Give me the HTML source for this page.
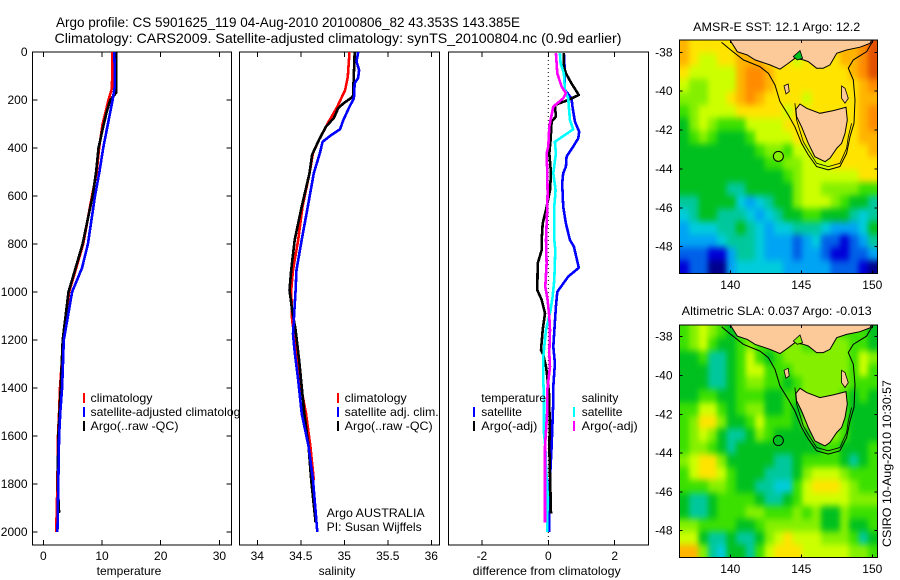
<!DOCTYPE html>
<html lang="en">
<head>
<meta charset="utf-8">
<title>Argo profile CS 5901625_119</title>
<style>
html,body{margin:0;padding:0;background:#fff;width:900px;height:580px;overflow:hidden}
svg{display:block}
text{font-family:"Liberation Sans",sans-serif;font-size:12px;fill:#000}
.title{font-size:14px}
</style>
</head>
<body>
<svg id="chart" xmlns="http://www.w3.org/2000/svg" width="900" height="580" viewBox="0 0 900 580">
  <defs>
    <filter id="map-smooth" filterUnits="userSpaceOnUse" x="640" y="0" width="260" height="580" color-interpolation-filters="sRGB">
      <feGaussianBlur stdDeviation="2.6 3.4"/>
    </filter>
  </defs>
  <rect x="0" y="0" width="900" height="580" fill="#fff"/>
  <text class="title" x="56" y="27" textLength="464" lengthAdjust="spacingAndGlyphs">Argo profile: CS 5901625_119 04-Aug-2010 20100806_82 43.353S 143.385E</text>
  <text class="title" x="54.5" y="43" textLength="567" lengthAdjust="spacingAndGlyphs">Climatology: CARS2009. Satellite-adjusted climatology: synTS_20100804.nc (0.9d earlier)</text>

  <g id="panel-t"></g>
  <g>
    <rect x="83" y="393" width="2" height="10" fill="#f00"/>
    <text x="90.5" y="402" textLength="62" lengthAdjust="spacingAndGlyphs">climatology</text>
    <rect x="83" y="407" width="2" height="10" fill="#00f"/>
    <text x="90.5" y="416" textLength="156" lengthAdjust="spacingAndGlyphs">satellite-adjusted climatology</text>
    <rect x="83" y="421" width="2" height="10" fill="#000"/>
    <text x="90.5" y="430" textLength="88" lengthAdjust="spacingAndGlyphs">Argo(..raw -QC)</text>
  </g>
  <text x="129" y="575" text-anchor="middle">temperature</text>

  <g id="panel-s"></g>
  <g>
    <rect x="337" y="393" width="2" height="10" fill="#f00"/>
    <text x="344.7" y="402" textLength="62" lengthAdjust="spacingAndGlyphs">climatology</text>
    <rect x="337" y="407" width="2" height="10" fill="#00f"/>
    <text x="344.7" y="416" textLength="94" lengthAdjust="spacingAndGlyphs">satellite adj. clim.</text>
    <rect x="337" y="421" width="2" height="10" fill="#000"/>
    <text x="344.7" y="430" textLength="88" lengthAdjust="spacingAndGlyphs">Argo(..raw -QC)</text>
  </g>
  <text x="326.7" y="517" textLength="98" lengthAdjust="spacingAndGlyphs">Argo AUSTRALIA</text>
  <text x="326.7" y="531" textLength="95" lengthAdjust="spacingAndGlyphs">PI: Susan Wijffels</text>
  <text x="337" y="575" text-anchor="middle">salinity</text>

  <g id="panel-d"></g>
  <g>
    <text x="481.3" y="402">temperature</text>
    <text x="581.7" y="402">salinity</text>
    <rect x="473" y="407" width="2" height="10" fill="#00f"/>
    <text x="481.3" y="416">satellite</text>
    <rect x="473" y="421" width="2" height="10" fill="#000"/>
    <text x="481.3" y="430" textLength="56" lengthAdjust="spacingAndGlyphs">Argo(-adj)</text>
    <rect x="573" y="407" width="2" height="10" fill="#0ff"/>
    <text x="581.7" y="416">satellite</text>
    <rect x="573" y="421" width="2" height="10" fill="#f0f"/>
    <text x="581.7" y="430" textLength="56" lengthAdjust="spacingAndGlyphs">Argo(-adj)</text>
  </g>
  <text x="546.7" y="575" text-anchor="middle" textLength="148" lengthAdjust="spacingAndGlyphs">difference from climatology</text>

  <g id="map-sst"></g>
  <text x="776.7" y="31" text-anchor="middle" textLength="167" lengthAdjust="spacingAndGlyphs">AMSR-E SST: 12.1 Argo: 12.2</text>
  <g id="map-sla"></g>
  <text x="776.7" y="315" text-anchor="middle" textLength="190" lengthAdjust="spacingAndGlyphs">Altimetric SLA: 0.037 Argo: -0.013</text>
  <text transform="translate(891 547) rotate(-90)" textLength="167" lengthAdjust="spacingAndGlyphs">CSIRO 10-Aug-2010 10:30:57</text>
</svg>
<script>
// ---------- profile data (depth, value) ----------
const depthTicks = [0,200,400,600,800,1000,1200,1400,1600,1800,2000];
const tempTicks = [0,10,20,30];
const salTicks = [34,34.5,35,35.5,36];
const diffTicks = [-2,0,2];

const tClimDepth = [0,150,200,300,400,500,600,800,900,1000,1200,1400,1500,1600,1800,2000];
const tClimValue = [11.75,11.7,11.1,10.1,9.5,9.1,8.3,6.8,5.6,4.4,3.4,2.85,2.7,2.5,2.4,2.2];
const tArgoDepth = [0,170,200,250,300,400,500,600,800,900,1000,1200,1400,1600,1800,1920];
const tArgoValue = [12.4,12.4,11.4,10.8,10.3,9.4,9.0,8.4,6.7,5.5,4.3,3.3,2.96,2.55,2.45,2.7];
const tSatDepth = [0,100,150,200,300,400,500,600,800,900,1000,1200,1400,1500,1600,1800,2000];
const tSatValue = [12.1,12.2,12.15,11.8,11,10.2,9.55,8.8,7.6,6.6,4.9,3.5,3.2,2.9,2.7,2.55,2.4];

const sClimDepth = [0,103,158,228,297,365,421,505,644,783,908,992,1117,1250,1394,1506,1644,1783];
const sClimValue = [35.06,35.04,35.01,34.92,34.81,34.71,34.64,34.6,34.52,34.47,34.41,34.39,34.4,34.45,34.5,34.56,34.61,34.65];
const sArgoDepth = [0,186,214,234,275,311,365,428,505,644,783,908,992,1075,1158,1283,1394,1506,1644,1783,1960];
const sArgoValue = [35.12,35.1,34.99,34.93,34.88,34.79,34.71,34.63,34.6,34.51,34.43,34.39,34.37,34.4,34.44,34.48,34.51,34.54,34.59,34.62,34.67];
const sSatDepth = [0,40,75,108,130,193,228,283,322,346,374,421,505,644,783,908,992,1117,1175,1250,1367,1506,1644,1783,2000];
const sSatValue = [35.16,35.14,35.17,35.16,35.12,35.11,35.06,34.99,34.95,34.85,34.75,34.72,34.65,34.58,34.51,34.45,34.44,34.42,34.41,34.43,34.47,34.51,34.59,34.64,34.69];

const dTempSatDepth = [5,89,158,193,228,290,332,360,394,436,478,505,547,644,714,783,811,899,936,999,1061,1144,1228,1297,1394,1450,1533,1644,1728,1839,2000];
const dTempSatValue = [.47,.5,.5,.7,.73,.8,.93,.9,.75,.55,.53,.45,.42,.45,.53,.65,.77,.92,.6,.27,.23,.19,.15,.2,.15,.15,.13,.1,.07,.03,.03];
const dTempArgoDepth = [5,61,89,131,179,200,221,269,290,367,422,505,575,658,714,783,825,881,992,1033,1089,1158,1242,1262,1311,1353,1436,1492,1533,1644,1922];
const dTempArgoValue = [.47,.47,.53,.7,.92,.6,.2,.23,.1,.07,.03,.08,.05,-.07,-.17,-.2,-.2,-.32,-.33,-.2,-.1,-.17,-.22,-.15,-.07,-.03,.03,.03,.05,.03,.08];
const dSalSatDepth = [5,47,89,158,193,283,322,346,374,422,505,575,644,783,825,950,1019,1075,1158,1269,1367,1450,1589,1644,1728,1839,1999];
const dSalSatValue = [.35,.37,.47,.5,.6,.65,.75,.5,.2,.23,.15,.22,.18,.18,.21,.18,.13,.07,-.07,-.15,-.15,-.13,-.13,-.09,-.07,-.02,-.03];
const dSalArgoDepth = [5,89,144,172,193,228,283,311,394,422,505,589,644,783,881,978,1033,1103,1158,1256,1311,1408,1492,1644,1839,1961];
const dSalArgoValue = [.23,.27,.4,.53,.45,.15,.07,.03,0,-.05,-.03,-.02,-.03,-.07,-.05,-.09,-.02,.03,.05,.03,.05,-.03,-.03,-.1,-.1,-.1];

// ---------- map data ----------
const lonTicks = [140,145,150];
const latTicks = [38,40,42,44,46,48];
const sstGrid = [
[11,10,10,10,10,10,11,11,11,11,11,11,11,11,11,11,11,11,11,12,13],
[11,10,9,9,10,10,11,11,11,10,10,10,9,10,10,10,10,11,11,12,13],
[10,9,9,9,9,9,11,12,12,11,10,10,10,10,10,10,10,10,11,12,13],
[9,8,8,9,9,9,11,12,12,11,10,10,10,10,10,10,10,10,10,11,12],
[8,8,8,9,9,10,11,12,11,10,10,10,10,9,10,10,10,10,10,11,11],
[7,8,9,9,9,9,10,10,10,10,10,9,10,10,10,10,10,10,10,11,12],
[6,8,9,8,7,7,7,9,9,9,9,10,10,10,10,10,10,10,10,11,12],
[6,7,8,7,6,6,6,7,9,9,9,9,10,10,10,10,10,10,10,11,11],
[6,6,6,6,6,6,6,6,7,8,8,7,9,9,10,10,10,10,10,10,11],
[6,6,6,6,6,6,6,6,6,7,7,8,8,9,9,9,10,10,10,10,10],
[6,6,6,6,6,6,6,6,6,6,6,7,8,9,9,9,9,9,9,10,10],
[6,6,6,6,6,5,5,6,6,6,6,6,8,9,9,8,8,8,8,7,7],
[5,5,6,6,6,6,4,3,4,5,6,6,8,9,9,9,8,7,6,6,5],
[4,5,6,6,5,5,5,4,3,4,5,6,6,7,7,6,6,6,5,4,5],
[3,4,4,4,5,5,6,5,4,3,4,4,5,5,5,4,3,3,3,4,6],
[3,3,3,3,4,5,5,5,4,3,3,3,2,3,4,2,2,1,2,3,5],
[2,2,2,1,1,3,5,5,4,3,3,3,2,3,3,2,1,1,2,2,3],
[1,2,2,0,0,3,4,4,4,4,4,3,3,3,3,3,2,2,2,1,0]
];
const slaGrid = [
[7,8,9,8,7,6,7,7,7,8,8,8,8,8,8,8,8,7,7,7,6],
[7,8,9,7,6,6,7,8,7,7,8,8,8,7,7,8,8,8,7,7,6],
[6,6,7,5,5,6,7,9,7,6,7,8,8,8,8,8,8,8,7,9,8],
[6,6,6,5,5,6,7,9,9,7,7,7,8,8,8,8,8,8,7,9,7],
[6,6,6,5,5,6,7,8,8,7,7,6,7,8,8,8,8,8,7,7,7],
[6,6,7,7,6,6,7,7,7,6,6,7,7,8,8,8,8,7,6,7,6],
[7,7,9,9,7,6,7,8,8,6,6,7,6,8,8,8,8,7,6,6,6],
[7,8,10,10,8,6,6,7,9,7,7,7,6,8,8,8,8,7,6,6,6],
[7,8,9,8,6,5,5,6,8,7,6,6,6,6,8,8,8,7,6,6,6],
[7,8,8,7,6,5,6,6,6,6,6,6,6,6,6,7,7,6,6,6,7],
[8,9,10,10,8,6,6,6,6,6,5,5,6,7,7,7,7,6,5,6,7],
[7,9,10,10,9,7,6,6,6,5,5,5,6,8,9,9,9,8,7,7,7],
[7,7,7,8,8,7,6,6,5,5,4,4,7,9,10,10,10,9,8,7,7],
[6,5,5,6,7,7,7,7,6,5,5,6,7,9,9,9,9,9,8,8,8],
[6,5,5,6,7,7,7,8,8,7,7,7,8,7,8,6,6,8,7,7,7],
[8,8,7,7,7,7,6,6,7,8,8,8,8,8,8,6,6,8,6,6,7],
[9,9,6,5,5,6,5,5,6,8,9,10,9,9,9,8,8,8,7,5,6],
[11,11,8,5,4,6,6,5,7,9,10,10,10,9,9,9,9,9,8,8,7]
];
const mainlandLon = [139.98,140.49,141.2,141.74,142.79,143.5,144.08,144.55,145.14,145.49,146.08,146.55,147.02,147.49,148.19,149.13,149.84,149.95];
const mainlandLat = [37.37,37.97,38.14,38.39,38.65,38.87,38.57,38.31,38.39,38.48,38.82,38.82,38.65,38.05,37.88,37.74,37.54,37.37];
const tasmaniaLon = [144.62,144.91,145.38,146.31,147.25,148.15,148.24,148.08,147.84,147.49,147.02,146.67,145.96,145.49,145.02,144.67];
const tasmaniaLat = [40.93,40.66,40.88,41.14,41,40.83,41.48,42.17,42.68,42.94,43.45,43.63,43.37,42.68,41.83,41.31];
const kingLon = [143.78,144.08,144.15,143.92];
const kingLat = [39.73,39.63,40.02,40.14];
const flindersLon = [147.84,148.08,148.31,148.08,147.84];
const flindersLat = [39.73,39.85,40.37,40.62,40.37];
const bayLon = [144.44,144.91,145.09,144.72];
const bayLat = [38.22,37.91,38.31,38.39];
const shelfLon = [139.39,139.98,140.92,142.09,142.68,143.15,143.5,144.08,144.55,145.02,145.49,146.08,146.9,147.72,148.19,148.43,148.71,148.78,148.66,148.31,148.66,149.6,150.07];
const shelfLat = [37.49,37.85,38.39,38.74,39.08,39.68,40.54,41.22,41.83,42.68,43.28,43.88,44.05,43.88,43.2,42.34,41.65,40.45,39.42,38.82,38.39,37.97,37.37];
const innerLon = [144.55,144.67,145.14,145.49,146.08,146.9,147.72,148.19,148.31,148.54];
const innerLat = [40.62,41.48,42.6,43.03,43.71,43.88,43.71,42.94,42.34,41.65];
const argoLon = 143.385;
const argoLat = 43.353;
const sstArgoLevel = 8;
const slaArgoLevel = 6;

const colorRamp = ['#00008c','#0000d8','#0060e8','#00a4f4','#00ccdc','#00c89c','#00c020','#3ce000','#84f000','#ccff00','#ffe400','#ffb400','#ff8c00','#e05000'];

// ---------- helpers ----------
const NS = 'http://www.w3.org/2000/svg';
function mk(parent, tag, attrs, txt){
  const e = document.createElementNS(NS, tag);
  for (const k in attrs) e.setAttribute(k, attrs[k]);
  if (txt !== undefined) e.textContent = txt;
  parent.appendChild(e);
  return e;
}
const yTop = 52, yBot = 545;
const yDepth = d => 52 + d * 0.24;
const xT = v => 43.3 + v * 5.87;
const xS = v => 344.3 + (v - 35) * 87;
const xD = v => 548.3 + v * 33.2;

function line(g, xs, ys, fx, color, name){
  const pts = xs.map((d, i) => fx(ys[i]).toFixed(1) + ',' + yDepth(d).toFixed(1)).join(' ');
  const el = mk(g, 'polyline', {points: pts, fill: 'none', stroke: color, 'stroke-width': 2.6, 'stroke-linejoin': 'round', 'shape-rendering': 'crispEdges'});
  
  
}

function panel(id, x0, x1, fx, ticks, showDepth){
  const g = document.getElementById(id);
  const bg = mk(g, 'rect', {x: x0, y: yTop, width: x1 - x0, height: yBot - yTop, fill: '#fff', stroke: '#000', 'stroke-width': 1, 'shape-rendering': 'crispEdges'});
  
  
  ticks.forEach(t => {
    const px = fx(t);
    const a = mk(g, 'path', {d: `M${px} ${yTop}v5M${px} ${yBot}v-5`, stroke: '#000', 'stroke-width': 1, 'shape-rendering': 'crispEdges', fill: 'none'});
    
    
    const l = mk(g, 'text', {x: px, y: 560, 'text-anchor': 'middle'}, String(t));
    
    
  });
  if (showDepth) depthTicks.forEach(d => {
    const py = yDepth(d);
    const a = mk(g, 'path', {d: `M${x0} ${py}h5M${x1} ${py}h-5`, stroke: '#000', 'stroke-width': 1, 'shape-rendering': 'crispEdges', fill: 'none'});
    
    
    const l = mk(g, 'text', {x: 27.5, y: py + 4, 'text-anchor': 'end'}, String(d));
    
    
  });
  return g;
}

// ---------- profile panels ----------
const gt = panel('panel-t', 32.5, 231.5, xT, tempTicks, true);
line(gt, tClimDepth, tClimValue, xT, '#f00', 'temperature-climatology-line');
line(gt, tArgoDepth, tArgoValue, xT, '#000', 'temperature-argo-line');
line(gt, tSatDepth, tSatValue, xT, '#00f', 'temperature-satellite-line');

const gs = panel('panel-s', 239.5, 439.5, xS, salTicks, false);
line(gs, sClimDepth, sClimValue, xS, '#f00', 'salinity-climatology-line');
line(gs, sArgoDepth, sArgoValue, xS, '#000', 'salinity-argo-line');
line(gs, sSatDepth, sSatValue, xS, '#00f', 'salinity-satellite-line');

const gd = panel('panel-d', 448.5, 648.5, xD, diffTicks, false);
const zero = mk(gd, 'line', {x1: xD(0), x2: xD(0), y1: yTop, y2: yDepth(2040), stroke: '#000', 'stroke-width': 1, 'stroke-dasharray': '1 3'});


line(gd, dTempSatDepth, dTempSatValue, xD, '#00f', 'temp-satellite-difference-line');
line(gd, dTempArgoDepth, dTempArgoValue, xD, '#000', 'temp-argo-difference-line');
line(gd, dSalSatDepth, dSalSatValue, xD, '#0ff', 'sal-satellite-difference-line');
line(gd, dSalArgoDepth, dSalArgoValue, xD, '#f0f', 'sal-argo-difference-line');

// ---------- maps ----------
function drawMap(id, grid, top, bottom, lat38y, perLat, argoLevel, labelY){
  const g = document.getElementById(id);
  const left = 679.5, right = 877.5;
  const bleed = 12;
  const fx = lon => 730.3 + (lon - 140) * 14.2;
  const fy = lat => lat38y + (lat - 38) * perLat;
  const nRows = grid.length, nCols = grid[0].length;
  const cw = (right - left) / nCols;
  const ch = (bottom - top) / nRows;
  const clipId = id + '-clip';
  const defs = mk(g, 'defs', {});
  const cp = mk(defs, 'clipPath', {id: clipId});
  mk(cp, 'rect', {x: left, y: top, width: right - left, height: bottom - top});
  const clipped = mk(g, 'g', {'clip-path': `url(#${clipId})`});
  
  
  const heat = mk(clipped, 'g', {filter: 'url(#map-smooth)'});
  
  
  grid.forEach((row, r) => row.forEach((v, c) => {
    const x0 = left + c * cw - (c === 0 ? bleed : 0);
    const x1 = left + (c + 1) * cw + (c === nCols - 1 ? bleed : 0.5);
    const y0 = top + r * ch - (r === 0 ? bleed : 0);
    const y1 = top + (r + 1) * ch + (r === nRows - 1 ? bleed : 0.5);
    const cell = mk(heat, 'rect', {x: x0, y: y0, width: x1 - x0, height: y1 - y0, fill: colorRamp[v], 'shape-rendering': 'crispEdges'});
    
    
  }));
  const poly = (lons, lats) => lons.map((l, i) => fx(l).toFixed(1) + ',' + fy(lats[i]).toFixed(1)).join(' ');
  const inner = mk(clipped, 'polyline', {points: poly(innerLon, innerLat), fill: 'none', stroke: '#000', 'stroke-width': 0.8});
  
  
  const shelf = mk(clipped, 'polyline', {points: poly(shelfLon, shelfLat), fill: 'none', stroke: '#000', 'stroke-width': 1});
  
  
  const main = mk(clipped, 'polygon', {points: poly(mainlandLon, mainlandLat), fill: '#fcc998', stroke: '#000', 'stroke-width': 1});
  
  
  const tas = mk(clipped, 'polygon', {points: poly(tasmaniaLon, tasmaniaLat), fill: '#fcc998', stroke: '#000', 'stroke-width': 1});
  
  
  const king = mk(clipped, 'polygon', {points: poly(kingLon, kingLat), fill: '#fcc998', stroke: '#000', 'stroke-width': 0.8});
  
  
  const fli = mk(clipped, 'polygon', {points: poly(flindersLon, flindersLat), fill: '#fcc998', stroke: '#000', 'stroke-width': 0.8});
  
  
  const bay = mk(clipped, 'polygon', {points: poly(bayLon, bayLat), fill: colorRamp[id === 'map-sst' ? 6 : 8], stroke: '#000', 'stroke-width': 0.8});
  
  
  const dot = mk(clipped, 'circle', {cx: fx(argoLon), cy: fy(argoLat), r: 5, fill: colorRamp[argoLevel], stroke: '#000', 'stroke-width': 1});
  
  
  const frame = mk(g, 'rect', {x: left, y: top, width: right - left, height: bottom - top, fill: 'none', stroke: '#000', 'stroke-width': 1, 'shape-rendering': 'crispEdges'});
  
  
  lonTicks.forEach(t => {
    const px = fx(t);
    const a = mk(g, 'path', {d: `M${px} ${top}v3M${px} ${bottom}v-3`, stroke: '#000', 'stroke-width': 1, 'shape-rendering': 'crispEdges', fill: 'none'});
    
    
    const l = mk(g, 'text', {x: px, y: labelY, 'text-anchor': 'middle'}, String(t));
    
    
  });
  latTicks.forEach(t => {
    const py = fy(t);
    const a = mk(g, 'path', {d: `M${left} ${py}h3M${right} ${py}h-3`, stroke: '#000', 'stroke-width': 1, 'shape-rendering': 'crispEdges', fill: 'none'});
    
    
    const l = mk(g, 'text', {x: 672.5, y: py + 4, 'text-anchor': 'end'}, '-' + t);
    
    
  });
}
drawMap('map-sst', sstGrid, 40, 273.5, 52.3, 19.44, sstArgoLevel, 289);
drawMap('map-sla', slaGrid, 325, 557.5, 336.7, 19.4, slaArgoLevel, 573);
</script>
</body>
</html>
